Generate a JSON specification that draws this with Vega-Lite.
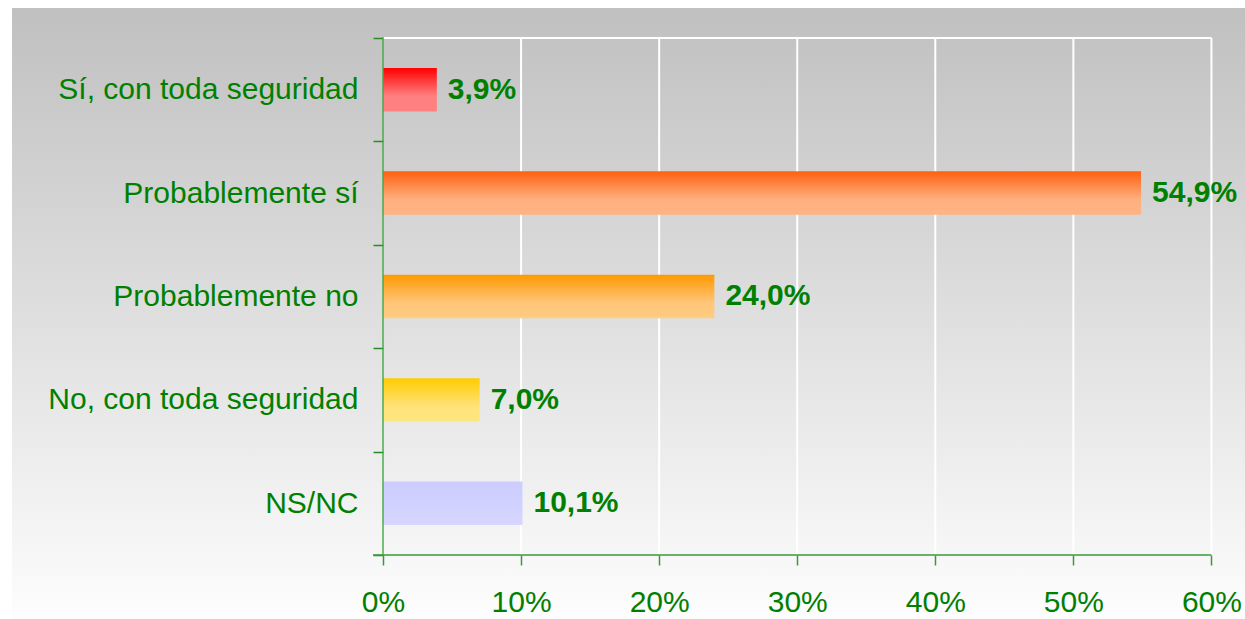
{
  "$schema": "https://vega.github.io/schema/vega-lite/v6.json",
  "width": 1233,
  "height": 611,
  "padding": {"left": 12, "top": 8, "right": 0, "bottom": 0},
  "autosize": {"type": "none"},
  "background": "#ffffff",
  "view": {
    "stroke": null,
    "fill": {
      "gradient": "linear",
      "x1": 0, "y1": 0, "x2": 0, "y2": 1,
      "stops": [
        {"offset": 0, "color": "#c0c0c0"},
        {"offset": 1, "color": "#fdfdfd"}
      ]
    }
  },
  "config": {
    "font": "Liberation Sans",
    "locale": {
      "number": {"decimal": ",", "thousands": ".", "grouping": [3], "currency": ["", " €"]}
    },
    "axisX": {
      "title": null, "values": [0, 0.1, 0.2, 0.3, 0.4, 0.5, 0.6], "format": ".0%",
      "offset": -64, "domain": false, "grid": false,
      "tickSize": 10, "tickColor": "#3a9a3a", "tickWidth": 1.5,
      "labelPadding": 22, "labelFontSize": 30, "labelColor": "#008000",
      "labelFont": "Liberation Sans", "labelFlush": false, "labelOverlap": false
    }
  },
  "resolve": {"scale": {"y": "independent"}},
  "layer": [
    {
      "layer": [
        {
          "data": {"values": [{"g": 0.1}, {"g": 0.2}, {"g": 0.3}, {"g": 0.4}, {"g": 0.5}, {"g": 0.6}]},
          "mark": {"type": "rule", "color": "#ffffff", "strokeWidth": 2},
          "encoding": {
            "x": {"field": "g", "type": "quantitative", "scale": {"domain": [-0.2687, 0.6243], "nice": false, "zero": false}, "axis": {"title": null, "values": [0, 0.1, 0.2, 0.3, 0.4, 0.5, 0.6], "format": ".0%"}},
            "y": {"datum": 0, "type": "quantitative", "scale": {"domain": [-0.619, 5.29], "nice": false, "zero": false}, "axis": null},
            "y2": {"datum": 5}
          }
        },
        {
          "data": {"values": [{}]},
          "mark": {"type": "rule", "color": "#ffffff", "strokeWidth": 2},
          "encoding": {
            "x": {"datum": 0, "type": "quantitative", "scale": {"domain": [-0.2687, 0.6243], "nice": false, "zero": false}, "axis": {"title": null, "values": [0, 0.1, 0.2, 0.3, 0.4, 0.5, 0.6], "format": ".0%"}},
            "x2": {"datum": 0.6},
            "y": {"datum": 5, "type": "quantitative", "scale": {"domain": [-0.619, 5.29], "nice": false, "zero": false}, "axis": null}
          }
        }
      ]
    },
    {
      "data": {
        "values": [
          {"respuesta": "Sí, con toda seguridad", "pct": 0.039},
          {"respuesta": "Probablemente sí", "pct": 0.549},
          {"respuesta": "Probablemente no", "pct": 0.240},
          {"respuesta": "No, con toda seguridad", "pct": 0.070},
          {"respuesta": "NS/NC", "pct": 0.101}
        ]
      },
      "layer": [
        {
          "mark": {"type": "bar", "height": {"band": 0.42}},
          "encoding": {
            "y": {
              "field": "respuesta", "type": "nominal", "sort": null,
              "scale": {"paddingInner": 0, "paddingOuter": 0.4545, "align": 0.319},
              "axis": {
                "title": null, "domain": false, "grid": false, "tickBand": "extent",
                "tickSize": 10, "tickColor": "#2a8a2a", "tickWidth": 1.5,
                "offset": -371, "labelPadding": 15, "labelFontSize": 30,
                "labelColor": "#008000", "labelFont": "Liberation Sans", "labelLimit": 0
              }
            },
            "x": {
              "field": "pct", "type": "quantitative",
              "scale": {"domain": [-0.2687, 0.6243], "nice": false, "zero": false},
              "axis": {"title": null, "values": [0, 0.1, 0.2, 0.3, 0.4, 0.5, 0.6], "format": ".0%"}
            },
            "color": {
              "condition": [
                {"test": "datum.respuesta === 'Sí, con toda seguridad'", "value": {"gradient": "linear", "x1": 0, "y1": 0, "x2": 0, "y2": 1, "stops": [{"offset": 0, "color": "#ff0000"}, {"offset": 0.65, "color": "#ff8080"}, {"offset": 1, "color": "#ff8080"}]}},
                {"test": "datum.respuesta === 'Probablemente sí'", "value": {"gradient": "linear", "x1": 0, "y1": 0, "x2": 0, "y2": 1, "stops": [{"offset": 0, "color": "#ff6010"}, {"offset": 0.65, "color": "#ffb080"}, {"offset": 1, "color": "#ffb384"}]}},
                {"test": "datum.respuesta === 'Probablemente no'", "value": {"gradient": "linear", "x1": 0, "y1": 0, "x2": 0, "y2": 1, "stops": [{"offset": 0, "color": "#ff9900"}, {"offset": 0.65, "color": "#ffc67a"}, {"offset": 1, "color": "#ffcc80"}]}},
                {"test": "datum.respuesta === 'No, con toda seguridad'", "value": {"gradient": "linear", "x1": 0, "y1": 0, "x2": 0, "y2": 1, "stops": [{"offset": 0, "color": "#ffcc00"}, {"offset": 0.65, "color": "#ffe27a"}, {"offset": 1, "color": "#ffe680"}]}}
              ],
              "value": {"gradient": "linear", "x1": 0, "y1": 0, "x2": 0, "y2": 1, "stops": [{"offset": 0, "color": "#ccccff"}, {"offset": 1, "color": "#d6d6ff"}]}
            }
          }
        },
        {
          "mark": {"type": "text", "align": "left", "baseline": "middle", "dx": 11, "fontSize": 30, "fontWeight": "bold", "font": "Liberation Sans", "color": "#008000"},
          "encoding": {
            "y": {"field": "respuesta", "type": "nominal", "sort": null},
            "x": {"field": "pct", "type": "quantitative", "scale": {"domain": [-0.2687, 0.6243], "nice": false, "zero": false}, "axis": {"title": null, "values": [0, 0.1, 0.2, 0.3, 0.4, 0.5, 0.6], "format": ".0%"}},
            "text": {"field": "pct", "type": "quantitative", "format": ".1%"}
          }
        }
      ]
    },
    {
      "data": {"values": [{}]},
      "layer": [
        {
          "mark": {"type": "rule", "color": "#3a9a3a", "strokeWidth": 1.5},
          "encoding": {
            "x": {"datum": -0.00724, "type": "quantitative", "scale": {"domain": [-0.2687, 0.6243], "nice": false, "zero": false}, "axis": {"title": null, "values": [0, 0.1, 0.2, 0.3, 0.4, 0.5, 0.6], "format": ".0%"}},
            "x2": {"datum": 0.6},
            "y": {"datum": 0, "type": "quantitative", "scale": {"domain": [-0.619, 5.29], "nice": false, "zero": false}, "axis": null}
          }
        },
        {
          "mark": {"type": "rule", "color": "#40a840", "strokeWidth": 2, "opacity": 0.7},
          "encoding": {
            "x": {"datum": 0, "type": "quantitative", "scale": {"domain": [-0.2687, 0.6243], "nice": false, "zero": false}, "axis": {"title": null, "values": [0, 0.1, 0.2, 0.3, 0.4, 0.5, 0.6], "format": ".0%"}},
            "y": {"datum": 0, "type": "quantitative", "scale": {"domain": [-0.619, 5.29], "nice": false, "zero": false}, "axis": null},
            "y2": {"datum": 5.01}
          }
        }
      ]
    }
  ]
}
